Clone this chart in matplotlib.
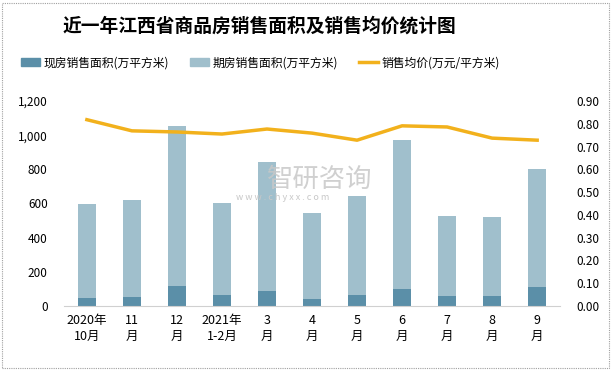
#!/usr/bin/env python3
"""Jiangxi commercial housing sales area and average price, last 12 months."""

import matplotlib

matplotlib.use("Agg")

import matplotlib.pyplot as plt
from matplotlib.lines import Line2D
from matplotlib.patches import Patch, Rectangle
from matplotlib.ticker import FuncFormatter, MultipleLocator

plt.rcParams["font.family"] = ["Noto Sans CJK SC", "DejaVu Sans"]

CATEGORIES = [
    "2020年\n10月", "11\n月", "12\n月", "2021年\n1-2月", "3\n月", "4\n月",
    "5\n月", "6\n月", "7\n月", "8\n月", "9\n月",
]
EXISTING_AREA = [47, 53, 117, 64, 88, 41, 64, 100, 59, 59, 111]
TOTAL_AREA = [598, 621, 1055, 604, 844, 545, 645, 973, 527, 522, 803]
FUTURES_AREA = [t - e for t, e in zip(TOTAL_AREA, EXISTING_AREA)]
AVG_PRICE = [0.818, 0.769, 0.764, 0.755, 0.777, 0.759, 0.728, 0.791, 0.786, 0.737, 0.728]

DARK = "#5b8fa8"
LIGHT = "#a0bfcc"
GOLD = "#f2b11c"

fig = plt.figure(figsize=(6.13, 3.70), dpi=100)
fig.patches.append(
    Rectangle((0.004, 0.006), 0.99, 0.985, transform=fig.transFigure,
              fill=False, edgecolor="#a0a0a0", linewidth=0.8, linestyle=(0, (1, 1)))
)

ax = fig.add_axes([0.105, 0.173, 0.808, 0.554])
x = list(range(len(CATEGORIES)))
ax.bar(x, EXISTING_AREA, width=0.4, color=DARK, zorder=2)
ax.bar(x, FUTURES_AREA, width=0.4, bottom=EXISTING_AREA, color=LIGHT, zorder=2)

ax.set_xlim(-0.5, len(CATEGORIES) - 0.5)
ax.set_ylim(0, 1200)
ax.yaxis.set_major_locator(MultipleLocator(200))
ax.yaxis.set_major_formatter(FuncFormatter(lambda v, _: f"{v:,.0f}"))
ax.set_xticks(x)
ax.set_xticklabels(CATEGORIES, fontsize=9, linespacing=1.3)
for side in ("top", "right", "left"):
    ax.spines[side].set_visible(False)
ax.spines["bottom"].set_color("#d0d0d0")
ax.tick_params(axis="x", length=0, pad=6)
ax.tick_params(axis="y", length=0, labelsize=8.5, pad=12)

ax2 = ax.twinx()
ax2.plot(x, AVG_PRICE, color=GOLD, linewidth=2.5, zorder=3)
ax2.set_ylim(0, 0.9)
ax2.yaxis.set_major_locator(MultipleLocator(0.1))
ax2.yaxis.set_major_formatter(FuncFormatter(lambda v, _: f"{v:.2f}"))
for side in ("top", "right", "left", "bottom"):
    ax2.spines[side].set_visible(False)
ax2.tick_params(axis="y", length=0, labelsize=8.5, pad=12)

# watermark
fig.text(0.435, 0.515, "智研咨询", fontsize=19, color="#c8c8c8", alpha=0.85,
         ha="left", va="center")
fig.text(0.385, 0.465, "w w w . c h y x x . c o m", fontsize=6.5, color="#c8c8c8",
         ha="left", va="center")

fig.suptitle("近一年江西省商品房销售面积及销售均价统计图", x=0.423, y=0.955,
             fontsize=13.5, fontweight="bold")

handles = [
    Patch(color=DARK, label="现房销售面积(万平方米)"),
    Patch(color=LIGHT, label="期房销售面积(万平方米)"),
    Line2D([], [], color=GOLD, linewidth=2.5, label="销售均价(万元/平方米)"),
]
fig.legend(handles=handles, loc="center", bbox_to_anchor=(0.425, 0.83), ncol=3,
           frameon=False, fontsize=8.5, handlelength=1.6, handleheight=0.6,
           columnspacing=1.8, handletextpad=0.3)

fig.savefig("out.png", dpi=100)
